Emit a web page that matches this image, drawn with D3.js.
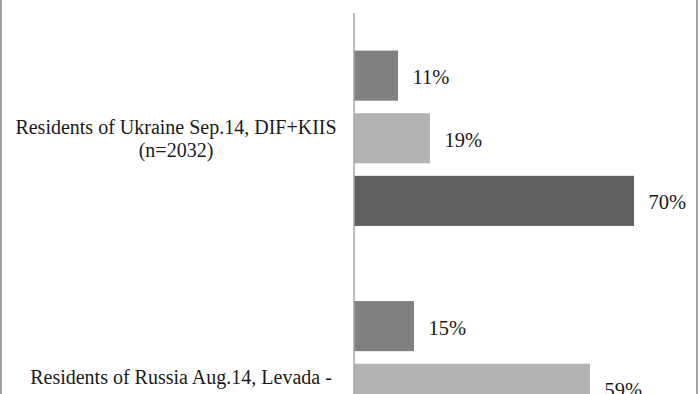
<!DOCTYPE html>
<meta charset="utf-8">
<style>
body { margin: 0; background: #fff; }
svg { display: block; }
.cat { font-family: "Liberation Serif", serif; font-size: 20px; fill: #1a1a1a; }
.val { font-family: "Liberation Serif", serif; font-size: 20.5px; fill: #1a1a1a; }
</style>
<body>
<script src="https://d3js.org/d3.v7.min.js"></script>
<script>
var width = 700, height = 394;

// groups (top to bottom) and their label lines
var groups = ["ukraine", "russia"];
var groupLabels = [
  ["Residents of Ukraine Sep.14, DIF+KIIS", "(n=2032)"],
  ["Residents of Russia Aug.14, Levada -"]
];
var series = ["s1", "s2", "s3"];
var ukraineValues = [11, 19, 70];
var russiaValues = [15, 59, 26];
var seriesColors = ["#808080", "#b3b3b3", "#606060"];

var rows = [ukraineValues, russiaValues];

var svg = d3.select("body").append("svg")
    .attr("width", width)
    .attr("height", height);

var x = d3.scaleLinear().domain([0, 100]).range([354, 754]);

var y0 = d3.scaleBand()
    .domain(groups)
    .range([13, 514])
    .paddingInner(0.3)
    .paddingOuter(0.15);

var y1 = d3.scaleBand()
    .domain(series)
    .range([0, y0.bandwidth()])
    .paddingInner(0.2)
    .paddingOuter(0);

var color = d3.scaleOrdinal().domain(series).range(seriesColors);

// frame borders left / right
svg.append("line")
    .attr("x1", 1).attr("x2", 1).attr("y1", 0).attr("y2", height)
    .style("stroke", "#a0a0a0").style("stroke-width", 2);
svg.append("line")
    .attr("x1", 697).attr("x2", 697).attr("y1", 0).attr("y2", height)
    .style("stroke", "#a0a0a0").style("stroke-width", 2);

var g = svg.selectAll("g.grp")
  .data(groups)
  .enter().append("g")
    .attr("class", "grp")
    .attr("transform", function(d) { return "translate(0," + y0(d) + ")"; });

g.selectAll("rect")
  .data(function(d, i) { return rows[i].map(function(v, j) { return {s: series[j], v: v}; }); })
  .enter().append("rect")
    .attr("x", x(0))
    .attr("y", function(d) { return y1(d.s); })
    .attr("width", function(d) { return x(d.v) - x(0); })
    .attr("height", y1.bandwidth())
    .style("fill", function(d) { return color(d.s); });

g.selectAll("text.val")
  .data(function(d, i) { return rows[i].map(function(v, j) { return {s: series[j], v: v}; }); })
  .enter().append("text")
    .attr("class", "val")
    .attr("x", function(d) { return x(d.v) + 14.5; })
    .attr("y", function(d) { return y1(d.s) + y1.bandwidth() / 2 + 8.5; })
    .text(function(d) { return d.v + "%"; });

// category labels
g.each(function(d, i) {
  var t = d3.select(this).append("text")
      .attr("class", "cat")
      .attr("text-anchor", "middle");
  groupLabels[i].forEach(function(line, k) {
    t.append("tspan")
      .attr("x", i === 0 ? 176 : 181)
      .attr("y", y0.bandwidth() / 2 - 4.5 + k * 23.5)
      .text(line);
  });
});

// vertical axis line
svg.append("line")
    .attr("x1", x(0)).attr("x2", x(0))
    .attr("y1", 13).attr("y2", height)
    .style("stroke", "#a6a6a6").style("stroke-width", 1.5);
</script>
</body>
